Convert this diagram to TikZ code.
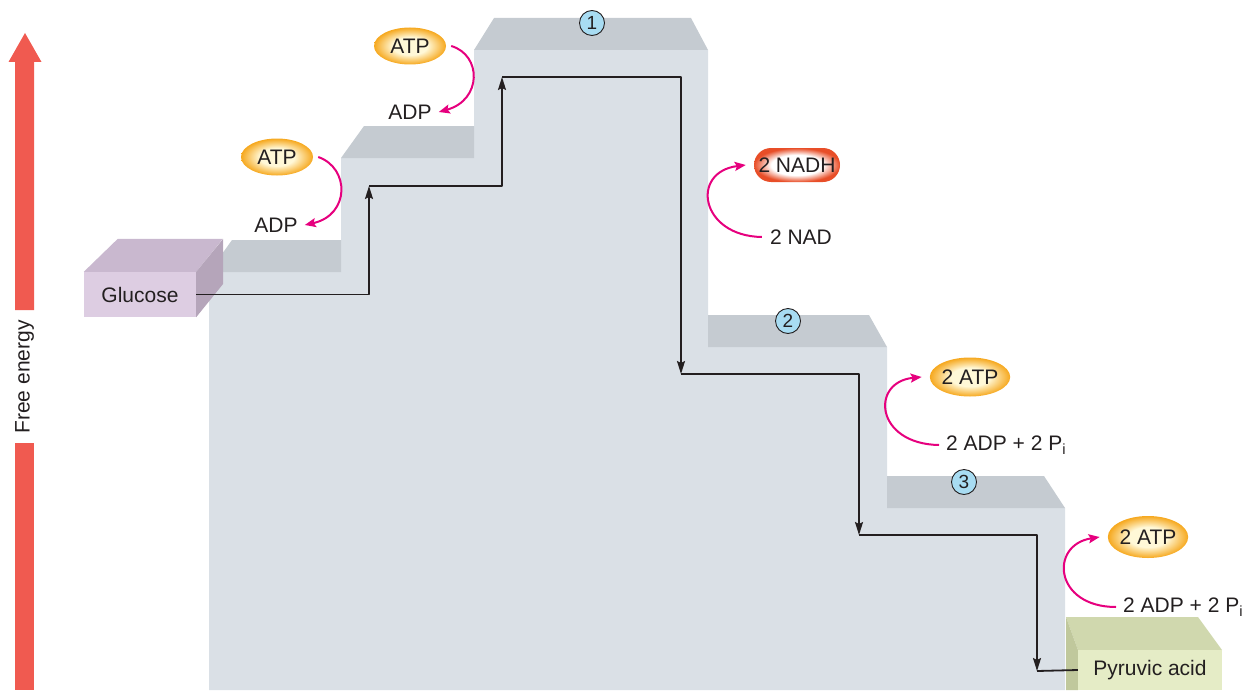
\documentclass[tikz,border=0pt]{standalone}
\usepackage{fontspec}
\setmainfont{Liberation Sans}
\usetikzlibrary{arrows.meta,shapes.geometric,shapes.misc}
\definecolor{stairface}{RGB}{218,224,230}
\definecolor{stairtop}{RGB}{197,203,209}
\definecolor{glucosefront}{RGB}{221,205,226}
\definecolor{glucosetop}{RGB}{201,184,207}
\definecolor{glucoseside}{RGB}{181,165,186}
\definecolor{pyruvicfront}{RGB}{229,236,198}
\definecolor{pyruvictop}{RGB}{208,216,174}
\definecolor{pyruvicside}{RGB}{192,200,156}
\definecolor{energyred}{RGB}{240,90,80}
\definecolor{transfermagenta}{RGB}{230,0,126}
\definecolor{atpouter}{RGB}{246,168,30}
\definecolor{atpinner}{RGB}{255,248,215}
\definecolor{nadhouter}{RGB}{232,78,40}
\definecolor{nadhinner}{RGB}{255,255,255}
\definecolor{stepnumfill}{RGB}{168,220,242}
\definecolor{labeltext}{RGB}{35,31,32}
\pgfdeclareradialshading{atpglow}{\pgfpoint{0bp}{0bp}}{color(0bp)=(atpinner); color(12bp)=(atpinner); color(25bp)=(atpouter); color(50bp)=(atpouter)}
\pgfdeclareradialshading{nadhglow}{\pgfpoint{0bp}{0bp}}{color(0bp)=(nadhinner); color(15bp)=(nadhinner); color(25bp)=(nadhouter); color(50bp)=(nadhouter)}
\newcommand{\diagfont}{\fontsize{21}{25}\selectfont}
\tikzset{
  atpball/.style={ellipse, inner sep=0pt, minimum width=72pt, minimum height=37pt,
    shading=atpglow, text=labeltext, font=\diagfont},
  nadhpill/.style={rounded rectangle, inner sep=0pt, minimum width=86pt, minimum height=34pt,
    shading=nadhglow, text=labeltext, font=\diagfont},
  plainlabel/.style={inner sep=2pt, text=labeltext, font=\diagfont},
  stepnum/.style={circle, draw=labeltext, line width=0.9pt, fill=stepnumfill, inner sep=0pt,
    minimum size=25pt, text=labeltext, font=\fontsize{19}{21}\selectfont},
  endbox/.style={rectangle, inner sep=0pt, text=labeltext, font=\diagfont},
  flowline/.style={draw=labeltext, line width=1.8pt},
  flowtip/.style={flowline, -{Stealth[length=13pt,width=8pt,inset=2pt]}},
  transferarrow/.style={draw=transfermagenta, line width=2pt,
    -{Stealth[length=11pt,width=9pt,inset=2pt]}}
}
\begin{document}
\begin{tikzpicture}[x=1pt, y=-1pt, line join=round]
\useasboundingbox (0,0) rectangle (1246,690);
% Free energy arrow, split round its label
\fill[energyred] (15,310) -- (15,62) -- (8.5,62) -- (25,33) -- (41.5,62) -- (34,62) -- (34,310) -- cycle;
\fill[energyred] (15,443) rectangle (34,690);
\node[plainlabel, rotate=90] (freeenergy) at (24.5,377) {Free energy};
% Staircase body
\fill[stairface] (209,690) -- (209,272) -- (341,272) -- (341,158) -- (474,158) -- (474,50)
  -- (708,50) -- (708,347) -- (887,347) -- (887,508) -- (1065,508) -- (1065,690) -- cycle;
% Top faces of the steps
\begin{scope}[fill=stairtop]
  \fill (209,272) -- (232,240) -- (341,240) -- (341,272) -- cycle;
  \fill (341,158) -- (364,126) -- (474,126) -- (474,158) -- cycle;
  \fill (474,50) -- (494,18) -- (691,18) -- (708,50) -- cycle;
  \fill (708,347) -- (708,315) -- (869,315) -- (887,347) -- cycle;
  \fill (887,508) -- (887,476) -- (1044,476) -- (1065,508) -- cycle;
\end{scope}
% Glucose block
\node[endbox, fill=glucosefront, minimum width=112pt, minimum height=45pt] (glucose) at (140,294.5) {Glucose};
\fill[glucosetop] (glucose.north west) -- ++(34,-33) -- ++(105,0) -- (glucose.north east) -- cycle;
\fill[glucoseside] (glucose.north east) -- ++(27,-33) -- ++(0,45) -- (glucose.south east) -- cycle;
% Pyruvic acid block
\fill[pyruvictop] (1078,650) -- ++(-12,-33) -- ++(132,0) -- (1222,650) -- cycle;
\fill[pyruvicside] (1078,650) -- ++(-12,-33) -- (1066,690) -- (1078,690) -- cycle;
\node[endbox, fill=pyruvicfront, minimum width=144pt, minimum height=40pt] (pyruvic) at (1150,670) {Pyruvic acid};
% Step numbers
\node[stepnum] (stepA) at (592,23) {1};
\node[stepnum] (stepB) at (788,321) {2};
\node[stepnum] (stepC) at (964,482) {3};
% Energy carriers
\node[atpball] (atpA) at (277,157) {ATP};
\node[plainlabel] (adpA) at (276,225) {ADP};
\node[atpball] (atpB) at (410,46) {ATP};
\node[plainlabel] (adpB) at (410,112) {ADP};
\node[nadhpill] (nadh) at (797,165) {2 NADH};
\node[plainlabel] (nad) at (801,237) {2 NAD};
\node[atpball, minimum width=74pt, minimum height=39pt] (atpC) at (970,377) {2 ATP};
\node[plainlabel, anchor=west] (adpC) at (944,445) {2 ADP + 2 P\textsubscript{i}};
\node[atpball, minimum width=75pt, minimum height=42pt] (atpD) at (1148,537) {2 ATP};
\node[plainlabel, anchor=west] (adpD) at (1121,607) {2 ADP + 2 P\textsubscript{i}};
% Route of the glucose down the stairs
\coordinate (turnA) at (369,186);
\coordinate (turnB) at (502,77);
\coordinate (turnC) at (681,374);
\coordinate (turnD) at (859,535);
\coordinate (turnE) at (1037,671);
\draw[flowtip] (glucose.east) -| (turnA);
\draw[flowtip] (turnA) -| (turnB);
\draw[flowtip] (turnB) -| (turnC);
\draw[flowtip] (turnC) -| (turnD);
\draw[flowtip] (turnD) -| (turnE);
\draw[flowline] (turnE) -- (pyruvic.west);
% Transfer arrows
\draw[transferarrow] ([xshift=5pt]atpA.east) .. controls (350,168) and (350,215) .. ([xshift=5pt]adpA.east);
\draw[transferarrow] ([xshift=5pt]atpB.east) .. controls (482,55) and (482,100) .. ([xshift=5pt]adpB.east);
\draw[transferarrow] ([xshift=-6pt]nad.west) .. controls (700,236) and (690,172) .. ([xshift=-8pt]nadh.west);
\draw[transferarrow] ([xshift=-5pt]adpC.west) .. controls (875,444) and (870,382) .. ([xshift=-8pt]atpC.west);
\draw[transferarrow] ([xshift=-5pt]adpD.west) .. controls (1054,607) and (1049,545) .. ([xshift=-8pt]atpD.west);
\end{tikzpicture}
\end{document}
